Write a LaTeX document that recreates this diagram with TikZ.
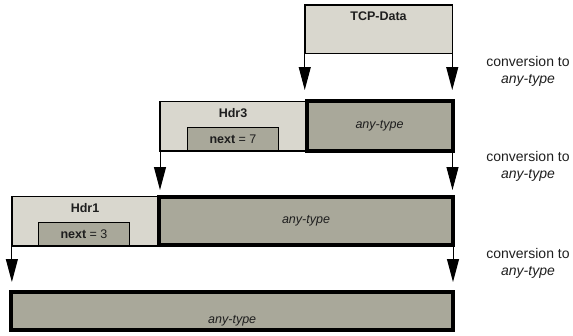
\documentclass[tikz,border=0pt]{standalone}
\usepackage{fontspec}
\setmainfont{Liberation Sans}
\usetikzlibrary{positioning, arrows.meta}

\definecolor{hdrgray}{HTML}{D9D7CE}
\definecolor{datagray}{HTML}{A9A89A}
\definecolor{inkgray}{HTML}{1E1E1E}

\begin{document}
\begin{tikzpicture}[
        x=1pt, y=-1pt,
        % header boxes (light, thin border)
        hdrbox/.style={
            draw=black,
            line width=1.5pt,
            fill=hdrgray,
            inner sep=0pt,
            outer sep=0pt
        },
        % payload boxes (dark, thick border)
        databox/.style={
            draw=black,
            line width=4pt,
            fill=datagray,
            inner sep=0pt,
            outer sep=0pt
        },
        % next-field boxes
        nextbox/.style={
            draw=black,
            line width=1.5pt,
            fill=datagray,
            inner sep=0pt,
            outer sep=0pt,
            minimum width=91pt,
            minimum height=23.5pt,
            text=inkgray,
            font=\fontsize{12.5}{15}\selectfont
        },
        hdrtext/.style={inner sep=0pt, text=inkgray, font=\fontsize{12.5}{15}\selectfont\bfseries},
        datatext/.style={inner sep=0pt, text=inkgray, font=\fontsize{12.5}{15}\selectfont\itshape},
        convtext/.style={align=center, inner sep=0pt, text=inkgray, font=\fontsize{14}{17}\selectfont},
        % conversion arrows
        conv/.style={line width=1pt, -{Triangle[width=12pt, length=23pt]}},
    ]
    \useasboundingbox (0,0) rectangle (573,335);

    % TCP data
    \node[hdrbox, minimum width=147.5pt, minimum height=48.5pt] (tcp) at (378.5,29) {};
    \node[hdrtext, below=7pt of tcp.north] (tcplbl) {TCP-Data};

    % Hdr3 + any-type
    \node[hdrbox, minimum width=146pt, minimum height=49.5pt] (hdr3) at (233,126.25) {};
    \node[databox, minimum width=146pt, minimum height=50pt] (any3) at (379.5,126) {};
    \node[datatext] (any3lbl) at (any3) {any-type};
    \node[hdrtext, below=7pt of hdr3.north] (hdr3lbl) {Hdr3};
    \node[nextbox] (next3) at (233,139.25) {\textbf{next} = 7};

    % Hdr1 + any-type
    \node[hdrbox, minimum width=146.25pt, minimum height=49.5pt] (hdr1) at (85,221.25) {};
    \node[databox, minimum width=294pt, minimum height=48pt] (any1) at (306,221) {};
    \node[datatext] (any1lbl) at (any1) {any-type};
    \node[hdrtext, below=7pt of hdr1.north] (hdr1lbl) {Hdr1};
    \node[nextbox] (next1) at (84,234.25) {\textbf{next} = 3};

    % final any-type
    \node[databox, minimum width=441.7pt, minimum height=37.7pt] (all) at (232.2,310.85) {};
    \node[datatext, above=3.5pt of all.south] (alllbl) {any-type};

    % arrows
    \draw[conv, shorten >=11pt] (tcp.south west) -- (tcp.south west |- any3.north);
    \draw[conv, shorten >=11pt] (tcp.south east) -- (tcp.south east |- any3.north);
    \draw[conv, shorten >=6.5pt] (hdr3.south west) -- (hdr3.south west |- hdr1.north);
    \draw[conv, shorten >=7pt] (any3.south east) -- (any3.south east |- any1.north);
    \draw[conv, shorten >=10pt] (hdr1.south west) -- (hdr1.south west |- all.north);
    \draw[conv, shorten >=10pt] (any1.south east) -- (any1.south east |- all.north);

    % side labels
    \node[convtext] (conv1) at (528,71) {conversion to\\ \textit{any-type}};
    \node[convtext] (conv2) at (528,166) {conversion to\\ \textit{any-type}};
    \node[convtext] (conv3) at (528,263) {conversion to\\ \textit{any-type}};

\end{tikzpicture}
\end{document}
